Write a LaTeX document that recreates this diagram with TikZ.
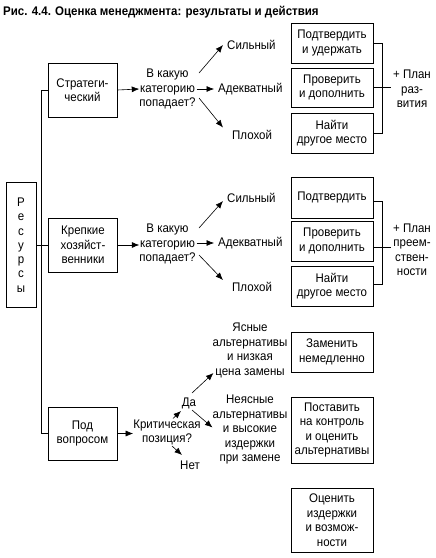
\documentclass[tikz,border=0pt]{standalone}
\usepackage{fontspec}
\setmainfont[FakeStretch=0.92]{Liberation Sans}
\usetikzlibrary{arrows.meta,calc}
\newcommand\fs{\fontsize{12.5}{14.5}\selectfont}
\newcommand\titlefs{\bfseries\fontsize{12.5}{14}\selectfont}
\begin{document}
\begin{tikzpicture}[x=1pt,y=-1pt,
  every node/.style={inner sep=0pt, align=center, font=\fs},
  lbox/.style={draw, line width=0.8pt, minimum width=69pt, minimum height=54pt},
  rbox/.style={draw, line width=0.8pt, minimum width=82pt},
  arr/.style={-{Latex[length=7.5pt,width=6pt]}, line width=0.6pt},
  ln/.style={line width=0.8pt}]
\useasboundingbox (0,0) rectangle (436,558);

\node[anchor=base west, font=\titlefs] (title) at (3,15) {Рис. 4.4. Оценка менеджмента: результаты и действия};

% left column
\node[lbox] (strat) at (82.5,90) {Стратеги-\\ческий};
\node[draw, line width=0.8pt, minimum width=30pt, minimum height=125pt,
      font=\fontsize{12.5}{14.3}\selectfont] (res) at (21,245) {Р\\е\\с\\у\\р\\с\\ы};
\node[lbox] (krep) at (83,245) {Крепкие\\хозяйст-\\венники};
\node[lbox, minimum height=53pt] (pod) at (82.5,433.5) {Под\\вопросом};
\draw[ln] (strat.west) -- ++(-6.5,0) |- (pod.west);
\draw[ln] (res.east) -- (krep.west);

% section 1
\node (q1) at (167.5,89) {В какую\\категорию\\попадает?};
\draw[arr] (strat.east) -- (q1.west);
\node[anchor=west] (s1) at (227,45) {Сильный};
\node[anchor=west] (a1) at (218,89) {Адекватный};
\node[anchor=west] (p1) at (232,135) {Плохой};
\draw[arr] ($(q1.center)+(31.5,-16)$) -- ($(s1.west)+(-4,0)$);
\draw[arr, shorten >=4pt] ($(q1.east)+(1,0)$) -- (a1.west);
\draw[arr] ($(q1.center)+(31.5,9)$) -- ($(p1.west)+(-9,-7.5)$);
\node[rbox, minimum height=40pt] (b11) at (332,43) {Подтвердить\\и удержать};
\node[rbox, minimum height=39pt] (b12) at (332,87.5) {Проверить\\и дополнить};
\node[rbox, minimum height=40pt] (b13) at (332,133) {Найти\\другое место};
\node (L1) at (412,89) {+ План\\раз-\\вития};
\draw[ln] (b11.east) -- ++(9,0) |- (b13.east);
\draw[ln, shorten >=2pt] (b12.east) -- (b12.east -| L1.west);

% section 2
\node (q2) at (167.5,244) {В какую\\категорию\\попадает?};
\draw[arr] (krep.east) -- (krep.east -| q2.west);
\node[anchor=west] (s2) at (227,198) {Сильный};
\node[anchor=west] (a2) at (218,243) {Адекватный};
\node[anchor=west] (p2) at (232,287) {Плохой};
\draw[arr] ($(q2.center)+(31.5,-16)$) -- ($(s2.west)+(-4,3)$);
\draw[arr, shorten >=4pt] ($(q2.east)+(1,-1)$) -- (a2.west);
\draw[arr] ($(q2.center)+(31.5,11)$) -- ($(p2.west)+(-9,-7)$);
\node[rbox, minimum height=41pt] (b21) at (332,197.5) {Подтвердить};
\node[rbox, minimum height=40pt] (b22) at (332,241) {Проверить\\и дополнить};
\node[rbox, minimum height=40pt] (b23) at (332,286) {Найти\\другое место};
\node (L2) at (412,250) {+ План\\преем-\\ствен-\\ности};
\draw[ln] ([yshift=-4pt]b21.east) -- ++(9,0) |- ([yshift=2pt]b23.east);
\draw[ln, shorten >=2pt] ([yshift=-6pt]b22.east) -- ([yshift=-6pt]b22.east -| L2.west);

% section 3
\node (q3) at (167,432.5) {Критическая\\позиция?};
\draw[arr] (pod.east) -- (pod.east -| q3.west);
\node (da) at (189,403) {Да};
\node (net) at (190,465) {Нет};
\draw[arr] ($(q3.center)+(6,-14)$) -- ($(q3.center)+(14,-21.5)$);
\draw[arr] ($(q3.center)+(5,13.5)$) -- ($(q3.center)+(15,22.5)$);
\node (y1) at (250,350.5) {Ясные\\альтернативы\\и низкая\\цена замены};
\node (n1) at (250,429.5) {Неясные\\альтернативы\\и высокие\\издержки\\при замене};
\draw[arr] ($(da.center)+(3,-10)$) -- ($(y1.south west)+(1,-5)$);
\draw[arr] ($(da.center)+(3,7)$) -- ($(n1.west)+(0,-2)$);
\node[rbox, minimum height=40pt] (c1) at (332,352) {Заменить\\немедленно};
\node[rbox, minimum height=66pt] (c2) at (332,430) {Поставить\\на контроль\\и оценить\\альтернативы};
\node[rbox, minimum height=64pt] (c3) at (332,520) {Оценить\\издержки\\и возмож-\\ности};
\end{tikzpicture}
\end{document}
